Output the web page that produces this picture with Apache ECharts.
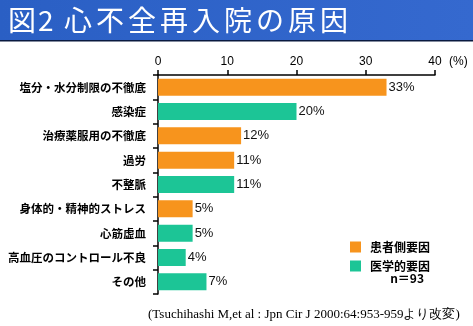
<!DOCTYPE html>
<html><head><meta charset="utf-8">
<script src="https://cdn.jsdelivr.net/npm/echarts@6/dist/echarts.min.js"></script>
<style>html,body{margin:0;padding:0;background:#fff}#c{width:473px;height:326px}</style>
</head><body><div id="c"></div>
<script>
const categories = ['塩分・水分制限の不徹底','感染症','治療薬服用の不徹底','過労','不整脈','身体的・精神的ストレス','心筋虚血','高血圧のコントロール不良','その他'];
const values = [33,20,12,11,11,5,5,4,7];
const groups = ['患者側要因','医学的要因','患者側要因','患者側要因','医学的要因','患者側要因','医学的要因','医学的要因','医学的要因'];
const seriesNames = ['患者側要因','医学的要因'];
const xTicks = [0,10,20,30,40];
const titleChars = ['図','2','心','不','全','再','入','院','の','原','因'];
const colors = {'患者側要因':'#F7941D','医学的要因':'#1CC596'};
const jp = '"Noto Sans CJK JP","Noto Sans",sans-serif';

const chart = echarts.init(document.getElementById('c'));
const series = seriesNames.map(n => ({
  name: n, type: 'bar', stack: 'all', barWidth: 17,
  itemStyle: {color: colors[n]},
  label: {show: true, position: 'right', distance: 2, formatter: '{c}%', color: '#111', fontSize: 13, fontFamily: 'Arial, "Liberation Sans", sans-serif'},
  data: values.map((v, i) => groups[i] === n ? v : '-')
}));
const titleX = titleChars.map((c, i) => i === 0 ? 8 : i === 1 ? 38 : 64 + 32 * (i - 2));
const graphics = [
  {type: 'rect', left: 0, top: 0, shape: {width: 473, height: 40},
    style: {fill: new echarts.graphic.LinearGradient(0,0,1,0,[{offset:0,color:'#2A5FC4'},{offset:1,color:'#3569CF'}])}},
  {type: 'rect', left: 0, top: 40, shape: {width: 473, height: 1.5}, style: {fill: '#0A1A40'}},
  {type: 'text', left: 449, top: 56, style: {text: '(%)', fill: '#000', fontSize: 12, fontFamily: 'Arial, sans-serif'}},
  {type: 'text', right: 49, top: 272, style: {text: 'n＝93', fill: '#000', fontSize: 12, fontWeight: 'bold', fontFamily: jp}},
  {type: 'text', left: 148, top: 308, style: {text: '(Tsuchihashi M,et al : Jpn Cir J 2000:64:953-959より改変)', fill: '#000', fontSize: 13, fontFamily: '"Liberation Serif","DejaVu Serif",serif'}}
];
titleChars.forEach((c, i) => graphics.push({type: 'text', x: titleX[i], y: 20,
  style: {text: c, fill: '#fff', fontSize: 28, fontFamily: jp, verticalAlign: 'middle'}}));
chart.setOption({
  animation: false,
  grid: {left: 158, top: 75, right: 38, bottom: 32, containLabel: false},
  xAxis: {type: 'value', position: 'top', min: xTicks[0], max: xTicks[xTicks.length-1], interval: 10,
    axisLine: {show: true, lineStyle: {color: '#000', width: 1.5}},
    axisTick: {show: true, length: 5, lineStyle: {color: '#000', width: 1.5}},
    axisLabel: {color: '#000', fontSize: 12, margin: 7, fontFamily: 'Arial, sans-serif'},
    splitLine: {show: false}},
  yAxis: {type: 'category', inverse: true, data: categories,
    axisLine: {show: true, lineStyle: {color: '#000', width: 1.5}},
    axisTick: {show: true, length: 5, lineStyle: {color: '#000', width: 1.5}},
    axisLabel: {color: '#000', fontSize: 11.5, fontWeight: 'bold', margin: 12, fontFamily: jp}},
  legend: {orient: 'vertical', left: 350, top: 241, padding: 0, itemWidth: 11, itemHeight: 11, itemGap: 7,
    icon: 'rect', data: seriesNames,
    textStyle: {color: '#000', fontSize: 12, fontWeight: 'bold', fontFamily: jp, padding: [0,0,0,4]}},
  graphic: graphics,
  series: series
});
</script></body></html>
